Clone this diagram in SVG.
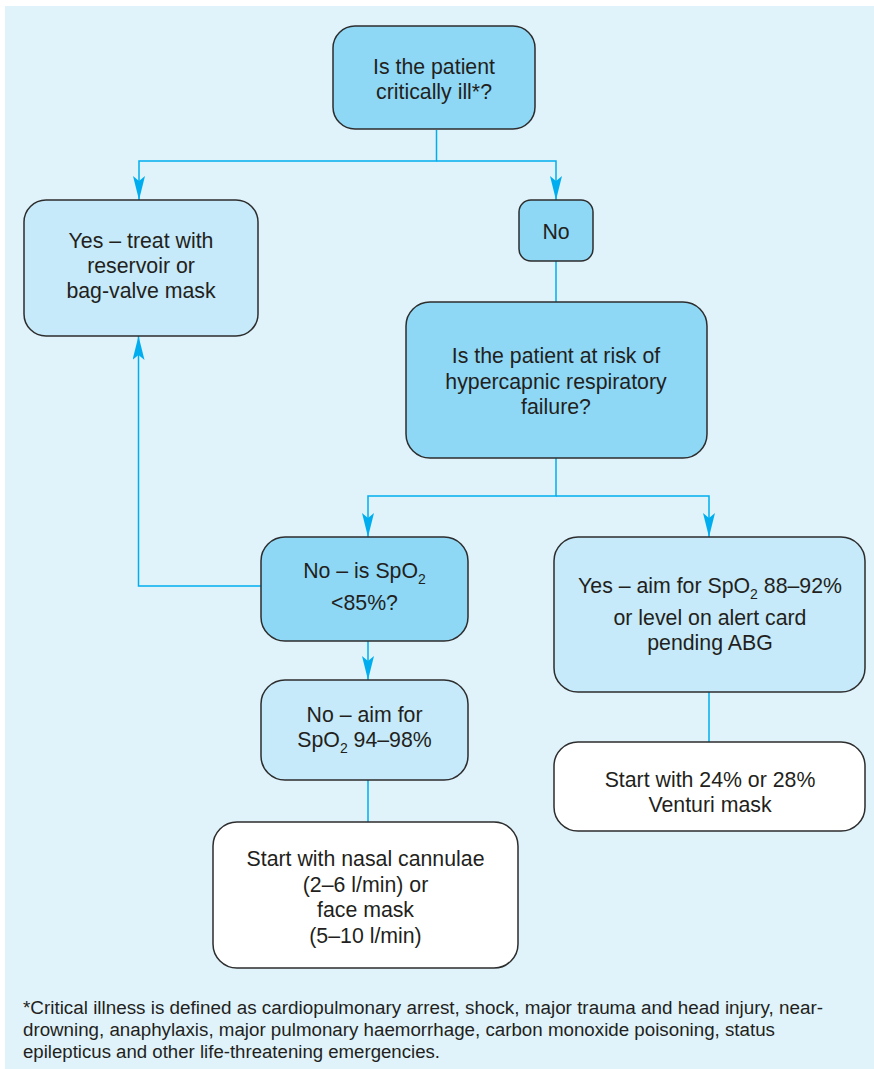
<svg xmlns="http://www.w3.org/2000/svg" width="874" height="1069" viewBox="0 0 874 1069">
<defs>
<style>
.panel{fill:#e0f3fb}
.box{stroke:#2d2d2d;stroke-width:1.5}
.dark{fill:#8ed8f6}
.light{fill:#c6eaf9}
.white{fill:#ffffff}
.t{font-family:"Liberation Sans",Arial,sans-serif;font-size:21.3px;fill:#231f20;text-anchor:middle}
.sub{font-size:14px}
.foot{font-family:"Liberation Sans",Arial,sans-serif;font-size:18px;fill:#231f20}
.con{fill:none;stroke:#00aeef;stroke-width:1.5}
</style>
<marker id="ah" viewBox="0 0 24 12" refX="24" refY="6" markerWidth="24" markerHeight="12" orient="auto" markerUnits="userSpaceOnUse">
<path d="M0,0 L24,6 L0,12 L5,6 Z" fill="#00aeef"/>
</marker>
</defs>
<rect class="panel" x="5" y="6" width="869" height="1063"/>

<g id="connectors">
<path class="con" d="M436.5,130 V161 H139 V200" marker-end="url(#ah)"/>
<path class="con" d="M436.5,161 H556 V200" marker-end="url(#ah)"/>
<path class="con" d="M556,261 V302"/>
<path class="con" d="M556,458 V496 H368 V537" marker-end="url(#ah)"/>
<path class="con" d="M556,496 H709 V537" marker-end="url(#ah)"/>
<path class="con" d="M261,586 H138.5 V336" marker-end="url(#ah)"/>
<path class="con" d="M368,641 V680" marker-end="url(#ah)"/>
<path class="con" d="M368,780 V822"/>
<path class="con" d="M709,692 V742"/>
</g>

<g id="critically-ill">
<rect class="box dark" x="333" y="26" width="202" height="103" rx="22"/>
<text class="t" x="434" y="74">Is the patient</text>
<text class="t" x="434" y="99">critically ill*?</text>
</g>

<g id="yes-reservoir">
<rect class="box light" x="24" y="200" width="234" height="136" rx="22"/>
<text class="t" x="141" y="248">Yes – treat with</text>
<text class="t" x="141" y="273">reservoir or</text>
<text class="t" x="141" y="298">bag-valve mask</text>
</g>

<g id="no">
<rect class="box dark" x="519" y="200" width="74" height="61" rx="12"/>
<text class="t" x="556" y="239">No</text>
</g>

<g id="hypercapnic">
<rect class="box dark" x="406" y="302" width="301" height="156" rx="24"/>
<text class="t" x="556" y="363">Is the patient at risk of</text>
<text class="t" x="556" y="389">hypercapnic respiratory</text>
<text class="t" x="556" y="414">failure?</text>
</g>

<g id="no-spo2-85">
<rect class="box dark" x="261" y="537" width="207" height="104" rx="24"/>
<text class="t" x="364.5" y="578">No – is SpO<tspan class="sub" dy="6">2</tspan></text>
<text class="t" x="364.5" y="610">&lt;85%?</text>
</g>

<g id="no-aim">
<rect class="box light" x="261" y="680" width="207" height="100" rx="24"/>
<text class="t" x="364.5" y="722">No – aim for</text>
<text class="t" x="364.5" y="747">SpO<tspan class="sub" dy="6">2</tspan><tspan dy="-6"> 94–98%</tspan></text>
</g>

<g id="nasal">
<rect class="box white" x="213" y="822" width="305" height="146" rx="24"/>
<text class="t" x="365.5" y="866">Start with nasal cannulae</text>
<text class="t" x="365.5" y="892">(2–6 l/min) or</text>
<text class="t" x="365.5" y="917">face mask</text>
<text class="t" x="365.5" y="943">(5–10 l/min)</text>
</g>

<g id="yes-aim">
<rect class="box light" x="554" y="537" width="311" height="155" rx="24"/>
<text class="t" x="710" y="593">Yes – aim for SpO<tspan class="sub" dy="6">2</tspan><tspan dy="-6"> 88–92%</tspan></text>
<text class="t" x="710" y="625">or level on alert card</text>
<text class="t" x="710" y="650">pending ABG</text>
</g>

<g id="venturi">
<rect class="box white" x="554" y="742" width="311" height="89" rx="24"/>
<text class="t" x="710" y="787">Start with 24% or 28%</text>
<text class="t" x="710" y="812">Venturi mask</text>
</g>

<g id="footnote">
<text class="foot" x="23" y="1014" textLength="800" lengthAdjust="spacingAndGlyphs">*Critical illness is defined as cardiopulmonary arrest, shock, major trauma and head injury, near-</text>
<text class="foot" x="23" y="1036" textLength="752" lengthAdjust="spacingAndGlyphs">drowning, anaphylaxis, major pulmonary haemorrhage, carbon monoxide poisoning, status</text>
<text class="foot" x="23" y="1058" textLength="417" lengthAdjust="spacingAndGlyphs">epilepticus and other life-threatening emergencies.</text>
</g>
</svg>
